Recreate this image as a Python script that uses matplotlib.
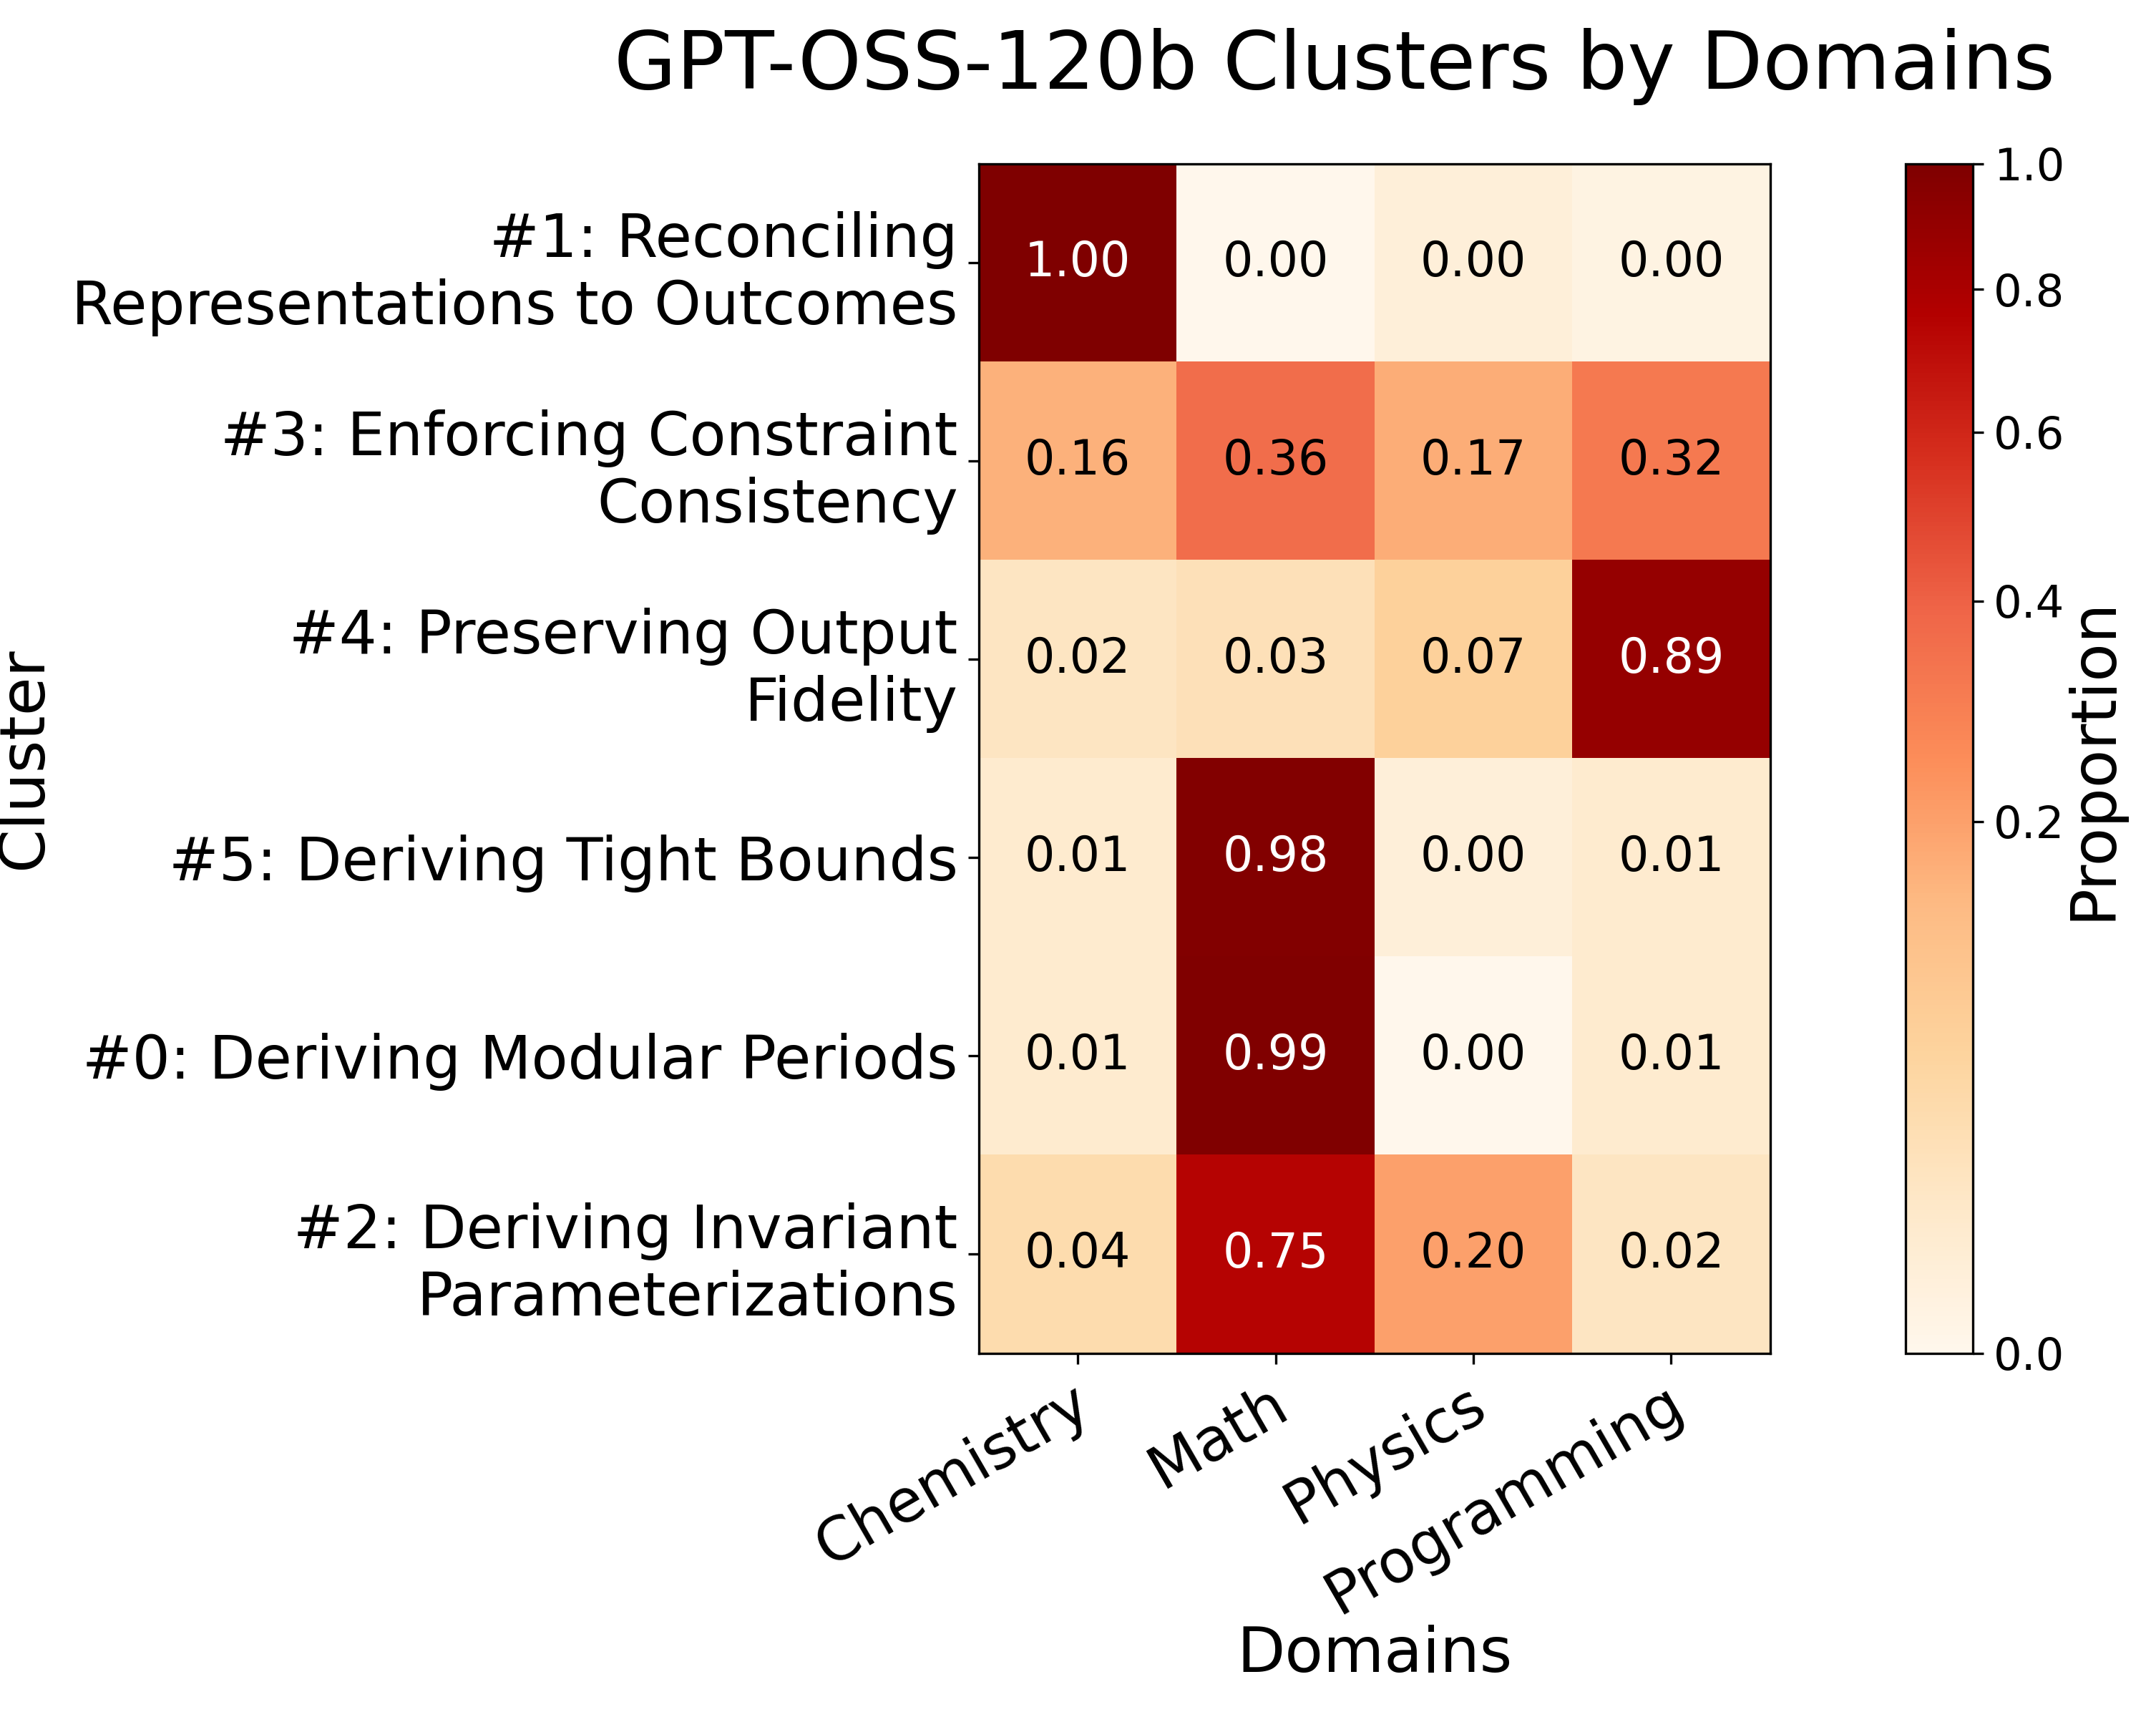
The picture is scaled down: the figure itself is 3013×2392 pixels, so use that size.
import numpy as np
import matplotlib
matplotlib.use("Agg")
import matplotlib.pyplot as plt
import matplotlib.transforms as mtrans
from matplotlib.colors import PowerNorm

# data (rows = clusters, cols = domains)
domains = ["Chemistry", "Math", "Physics", "Programming"]
clusters = [
    "#1: Reconciling\nRepresentations to Outcomes",
    "#3: Enforcing Constraint\nConsistency",
    "#4: Preserving Output\nFidelity",
    "#5: Deriving Tight Bounds",
    "#0: Deriving Modular Periods",
    "#2: Deriving Invariant\nParameterizations",
]
row_1 = [1.00, 0.000, 0.004, 0.001]
row_3 = [0.160, 0.360, 0.170, 0.315]
row_4 = [0.020, 0.030, 0.070, 0.890]
row_5 = [0.010, 0.980, 0.004, 0.010]
row_0 = [0.010, 0.990, 0.000, 0.010]
row_2 = [0.040, 0.750, 0.200, 0.020]
cbar_ticks = [0.0, 0.2, 0.4, 0.6, 0.8, 1.0]

data = np.array([row_1, row_3, row_4, row_5, row_0, row_2])

fig = plt.figure(figsize=(3013 / 300, 2392 / 300), dpi=300)
ax = fig.add_axes([0.454, 0.2095, 0.367, 0.6948])
cax = fig.add_axes([0.884, 0.2095, 0.031, 0.6948])

norm = PowerNorm(gamma=0.5, vmin=0, vmax=1)
im = ax.imshow(data, cmap="OrRd", norm=norm, aspect="auto")

for i in range(data.shape[0]):
    for j in range(data.shape[1]):
        v = data[i, j]
        ax.text(j, i, f"{v:.2f}", ha="center", va="center", fontsize=16,
                color="white" if v > 0.5 else "black")

ax.set_xticks(range(len(domains)))
ax.set_xticklabels(domains, rotation=30, ha="right", fontsize=20)
# nudge the rotated labels a bit to the right
shift = mtrans.ScaledTranslation(7.5 / 72, 0, fig.dpi_scale_trans)
for lbl in ax.get_xticklabels():
    lbl.set_transform(lbl.get_transform() + shift)
ax.set_yticks(range(len(clusters)))
ax.set_yticklabels(clusters, fontsize=20)

ax.set_xlabel("Domains", fontsize=21)
ax.xaxis.set_label_coords(0.5, -0.228)
ax.set_ylabel("Cluster", fontsize=21)
ax.yaxis.set_label_coords(-1.168, 0.5)

cb = fig.colorbar(im, cax=cax)
cb.set_ticks(cbar_ticks)
cb.ax.tick_params(labelsize=15)
cb.set_label("Proportion", fontsize=21, labelpad=-0.5)

fig.text(0.619, 0.948, "GPT-OSS-120b Clusters by Domains", fontsize=27,
         ha="center", va="baseline")

fig.savefig("out.png", dpi=300)
